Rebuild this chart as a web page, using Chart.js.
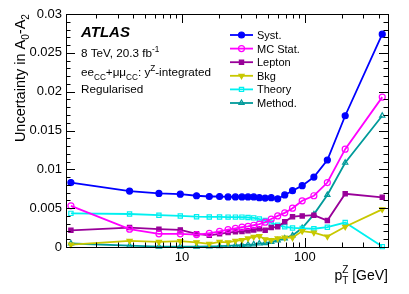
<!DOCTYPE html>
<html>
<head>
<meta charset="utf-8">
<script src="https://cdn.jsdelivr.net/npm/chart.js@4.4.1/dist/chart.umd.min.js"></script>
<style>
html, body { margin: 0; padding: 0; background: #fff; }
#wrap { width: 409px; height: 294px; }
</style>
</head>
<body>
<div id="wrap"><canvas id="chart"></canvas></div>
<script>
// pT bin centres [GeV]
const ptBins = [1.25, 3.75, 6.5, 9.7, 13.15, 16.7, 20.25, 23.75, 27.25, 30.8, 34.5, 38.4,
    42.65, 47.55, 53.3, 60.15, 68.65, 79.4, 95.2, 118.5, 152.5, 213, 426.5];

const systVals = [0.0083, 0.0072, 0.0069, 0.0068, 0.0066, 0.0065, 0.0065, 0.00645, 0.00645, 0.00645,
    0.00645, 0.00645, 0.00635, 0.0063, 0.00635, 0.0062, 0.0067, 0.00725, 0.0079, 0.009, 0.0112, 0.0169, 0.0274];
const mcStatVals = [0.0053, 0.0023, 0.0017, 0.0017, 0.0016, 0.00175, 0.002, 0.00225, 0.0024, 0.00255,
    0.00265, 0.0028, 0.00295, 0.0032, 0.0036, 0.004, 0.0044, 0.005, 0.00595, 0.0066, 0.0083, 0.0126, 0.0193];
const leptonVals = [0.00215, 0.0025, 0.0023, 0.0022, 0.0017, 0.0015, 0.0017, 0.00185, 0.00195, 0.002,
    0.0021, 0.0022, 0.00235, 0.00215, 0.0025, 0.0026, 0.00325, 0.0039, 0.004, 0.0041, 0.0034, 0.00685, 0.0064];
const bkgVals = [0.0003, 0.0008, 0.00065, 0.00075, 0.0006, 0.0004, 0.00065, 0.0006, 0.0008, 0.0009,
    0.0011, 0.0013, 0.0014, 0.001, 0.0009, 0.0011, 0.0012, 0.0012, 0.00205, 0.00185, 0.00135, 0.0026, 0.00485];
const theoryVals = [0.00433, 0.00425, 0.0041, 0.004, 0.0039, 0.00387, 0.00387, 0.00385, 0.00385, 0.00385,
    0.0038, 0.00375, 0.0036, 0.0034, 0.0031, 0.0028, 0.0026, 0.00245, 0.0024, 0.00235, 0.00255, 0.00315, 0.00005];
const methodVals = [0.00045, 0.00017, 0.00005, 0.00003, 0.00005, 0.00008, 0.0001, 0.00015, 0.0002, 0.00025,
    0.0003, 0.00035, 0.00045, 0.0005, 0.00065, 0.00085, 0.0011, 0.0015, 0.00245, 0.0042, 0.0067, 0.01085, 0.0169];

const xTickLabels = [10, 100];
const yTickStep = 0.005;

const FONT = '"Liberation Sans", Arial, Helvetica, sans-serif';

function series(label, vals, color, style, filled, rotation) {
    return {
        label: label,
        data: ptBins.map((x, i) => ({ x: x, y: vals[i] })),
        borderColor: color,
        backgroundColor: filled ? color : 'rgba(0,0,0,0)',
        pointBorderColor: color,
        pointBackgroundColor: filled ? color : 'rgba(0,0,0,0)',
        pointStyle: style,
        pointRotation: rotation || 0,
        pointRadius: 3,
        pointBorderWidth: 1.2,
        borderWidth: 1.8,
        tension: 0,
        clip: false
    };
}

// text with sub/superscripts; parts: [text, kind]
function richText(ctx, parts, x, y, size, weight) {
    let cx = x;
    for (const [t, k] of parts) {
        const s = k ? size * 0.7 : size;
        ctx.font = `${weight || ''} ${s}px ${FONT}`;
        const dy = k === 'sub' ? size * 0.3 : k === 'sup' ? -size * 0.4 : 0;
        ctx.fillText(t, cx, y + dy);
        cx += ctx.measureText(t).width;
    }
    return cx - x;
}
function richWidth(ctx, parts, size) {
    let w = 0;
    for (const [t, k] of parts) {
        ctx.font = `${k ? size * 0.7 : size}px ${FONT}`;
        w += ctx.measureText(t).width;
    }
    return w;
}

const decor = {
    id: 'decor',
    afterDraw(chart) {
        const { ctx, chartArea: a, scales: { x, y } } = chart;
        ctx.save();
        ctx.strokeStyle = '#000';
        ctx.lineWidth = 1;
        ctx.strokeRect(Math.round(a.left) + 0.5, Math.round(a.top) + 0.5,
            Math.round(a.right - a.left), Math.round(a.bottom - a.top));

        // y ticks, both sides
        ctx.beginPath();
        for (let i = 0; i <= 30; i++) {
            const py = Math.round(y.getPixelForValue(i * 0.001)) + 0.5;
            const len = i % 5 === 0 ? 9 : 4.5;
            ctx.moveTo(a.left, py); ctx.lineTo(a.left + len, py);
            ctx.moveTo(a.right, py); ctx.lineTo(a.right - len, py);
        }
        // x ticks, bottom and top
        for (let d = 1; d <= 100; d *= 10) {
            for (let m = 1; m <= 9; m++) {
                const v = m * d;
                if (v < x.min || v > x.max) continue;
                const px = Math.round(x.getPixelForValue(v)) + 0.5;
                const len = m === 1 ? 9 : 4.5;
                ctx.moveTo(px, a.bottom); ctx.lineTo(px, a.bottom - len);
                ctx.moveTo(px, a.top); ctx.lineTo(px, a.top + len);
            }
        }
        ctx.stroke();

        ctx.fillStyle = '#000';
        ctx.textAlign = 'left';
        ctx.textBaseline = 'alphabetic';

        // y title (rotated)
        const yParts = [['Uncertainty in A', ''], ['0', 'sub'], ['-A', ''], ['2', 'sub']];
        const yw = richWidth(ctx, yParts, 14.5);
        ctx.save();
        ctx.translate(25, a.top);
        ctx.rotate(-Math.PI / 2);
        richText(ctx, yParts, -yw, 0, 14.5);
        ctx.restore();

        // x title
        ctx.font = `14px ${FONT}`;
        const tail = ' [GeV]';
        const tw = ctx.measureText(tail).width;
        const pw = ctx.measureText('p').width;
        ctx.font = `10px ${FONT}`;
        const sw = ctx.measureText('Z').width;
        const xr = a.right;
        const x0 = xr - tw - sw - pw;
        ctx.font = `14px ${FONT}`;
        ctx.fillText('p', x0, 280);
        ctx.fillText(tail, xr - tw, 280);
        ctx.font = `10px ${FONT}`;
        ctx.fillText('Z', x0 + pw, 273);
        ctx.fillText('T', x0 + pw, 284);

        // ATLAS label block
        ctx.font = `italic bold 15px ${FONT}`;
        ctx.fillText('ATLAS', 81, 37);
        richText(ctx, [['8 TeV, 20.3 fb', ''], ['-1', 'sup']], 81, 57, 11.7);
        richText(ctx, [['ee', ''], ['CC', 'sub'], ['+\u03BC\u03BC', ''], ['CC', 'sub'],
            [': y', ''], ['Z', 'sup'], ['-integrated', '']], 81, 76, 11.7);
        richText(ctx, [['Regularised', '']], 81, 93, 11.7);

        // legend
        const rows = chart.data.datasets;
        rows.forEach((ds, i) => {
            const cy = 35 + i * 13.6;
            ctx.strokeStyle = ds.borderColor;
            ctx.lineWidth = ds.borderWidth;
            ctx.beginPath();
            ctx.moveTo(230, cy); ctx.lineTo(253, cy);
            ctx.stroke();
            ctx.lineWidth = ds.pointBorderWidth;
            ctx.fillStyle = ds.pointBackgroundColor;
            ctx.strokeStyle = ds.pointBorderColor;
            Chart.helpers.drawPoint(ctx, {
                pointStyle: ds.pointStyle, rotation: ds.pointRotation,
                radius: ds.pointRadius, borderWidth: ds.pointBorderWidth
            }, 241.5, cy);
            ctx.fillStyle = '#000';
            ctx.font = `11px ${FONT}`;
            ctx.fillText(ds.label, 257, cy + 4);
        });
        ctx.restore();
    }
};

new Chart(document.getElementById('chart'), {
    type: 'line',
    data: {
        datasets: [
            series('Syst.', systVals, '#0000ff', 'circle', true),
            series('MC Stat.', mcStatVals, '#ff00ff', 'circle', false),
            series('Lepton', leptonVals, '#990099', 'rect', true),
            series('Bkg', bkgVals, '#c8c800', 'triangle', true, 180),
            series('Theory', theoryVals, '#00f0f0', 'rect', false),
            series('Method.', methodVals, '#009a9a', 'triangle', false)
        ]
    },
    options: {
        responsive: true,
        maintainAspectRatio: false,
        animation: false,
        layout: { padding: { left: 0, top: 14, right: 21, bottom: 0 } },
        plugins: { legend: { display: false }, tooltip: { enabled: false } },
        scales: {
            x: {
                type: 'logarithmic',
                min: 1.14,
                max: 475,
                grid: { display: false, drawTicks: false },
                border: { display: false },
                afterBuildTicks: s => { s.ticks = xTickLabels.map(v => ({ value: v })); },
                afterFit: s => { s.height = 47; },
                ticks: {
                    color: '#000', padding: 3, maxRotation: 0, autoSkip: false,
                    font: { family: FONT, size: 13 },
                    callback: v => String(v)
                }
            },
            y: {
                min: 0,
                max: 0.03,
                grid: { display: false, drawTicks: false },
                border: { display: false },
                afterFit: s => { s.width = 66; },
                ticks: {
                    stepSize: yTickStep, color: '#000', padding: 4,
                    font: { family: FONT, size: 13 },
                    callback: v => v === 0 ? '0' : String(+v.toFixed(3))
                }
            }
        }
    },
    plugins: [decor]
});
</script>
</body>
</html>
